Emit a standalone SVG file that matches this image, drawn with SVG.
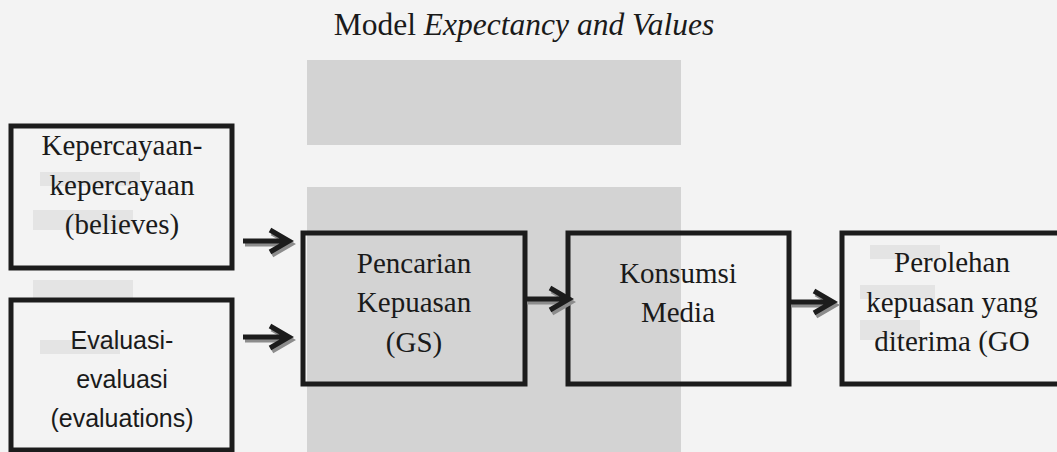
<svg xmlns="http://www.w3.org/2000/svg" width="1057" height="452" viewBox="0 0 1057 452">
<style>
.box{fill:none;stroke:#1c1c1c;stroke-width:5}
.serif{font-family:"Liberation Serif","Times New Roman",serif;font-size:29px;fill:#1a1a1a;text-anchor:middle}
.sans{font-family:"Liberation Sans",Arial,sans-serif;font-size:25px;fill:#1a1a1a;text-anchor:middle}
.arr{fill:none;stroke:#1c1c1c;stroke-width:5;stroke-linejoin:miter;stroke-linecap:butt}
.shd{fill:none;stroke:#8c8c8c;stroke-width:5;stroke-linejoin:miter;stroke-linecap:butt}
.wm{fill:#d3d3d3}
.wm2{fill:#e4e4e4}
</style>
<rect x="0" y="0" width="1057" height="452" fill="#f3f3f3"/>
<g id="watermark">
<rect class="wm" x="307" y="60" width="374" height="85"/>
<rect class="wm" x="307" y="187" width="374" height="265"/>
<rect class="wm2" x="40" y="172" width="100" height="14"/>
<rect class="wm2" x="33" y="210" width="100" height="20"/>
<rect class="wm2" x="33" y="280" width="100" height="20"/>
<rect class="wm2" x="40" y="340" width="80" height="14"/>
<rect class="wm2" x="870" y="245" width="70" height="14"/>
<rect class="wm2" x="860" y="285" width="75" height="14"/>
<rect class="wm2" x="860" y="320" width="60" height="20"/>
</g>
<text x="524" y="35" font-family="Liberation Serif, Times New Roman, serif" font-size="31.5" fill="#1a1a1a" text-anchor="middle">Model <tspan font-style="italic">Expectancy and Values</tspan></text>
<g id="n1">
<rect class="box" x="11" y="126" width="221" height="142"/>
<text class="serif" x="122" y="155">Kepercayaan-</text>
<text class="serif" x="122" y="195">kepercayaan</text>
<text class="serif" x="122" y="234">(believes)</text>
</g>
<g id="n2">
<rect class="box" x="11" y="300" width="221" height="150"/>
<text class="sans" x="122" y="349">Evaluasi-</text>
<text class="sans" x="122" y="388">evaluasi</text>
<text class="sans" x="122" y="427">(evaluations)</text>
</g>
<g id="n3">
<rect class="box" x="303" y="233" width="222" height="151"/>
<text class="serif" x="414" y="273">Pencarian</text>
<text class="serif" x="414" y="312">Kepuasan</text>
<text class="serif" x="414" y="352">(GS)</text>
</g>
<g id="n4">
<rect class="box" x="568" y="233" width="221" height="151"/>
<text class="serif" x="678" y="283">Konsumsi</text>
<text class="serif" x="678" y="322">Media</text>
</g>
<g id="n5">
<rect class="box" x="842" y="233" width="230" height="151"/>
<text class="serif" x="952" y="272">Perolehan</text>
<text class="serif" x="952" y="312">kepuasan yang</text>
<text class="serif" x="952" y="351">diterima (GO</text>
</g>
<g id="connectors">
<path class="shd" d="M245 244 H290 M272 233 L291 244 L272 255"/>
<path class="arr" d="M243 241 H288 M270 230 L289 241 L270 252"/>
<path class="shd" d="M245 340 H290 M272 329 L291 340 L272 351"/>
<path class="arr" d="M243 337 H288 M270 326 L289 337 L270 348"/>
<path class="shd" d="M527 302 H570 M552 291 L571 302 L552 313"/>
<path class="arr" d="M525 299 H568 M550 288 L569 299 L550 310"/>
<path class="shd" d="M791 305 H834 M816 294 L835 305 L816 316"/>
<path class="arr" d="M789 302 H832 M814 291 L833 302 L814 313"/>
</g>
</svg>
